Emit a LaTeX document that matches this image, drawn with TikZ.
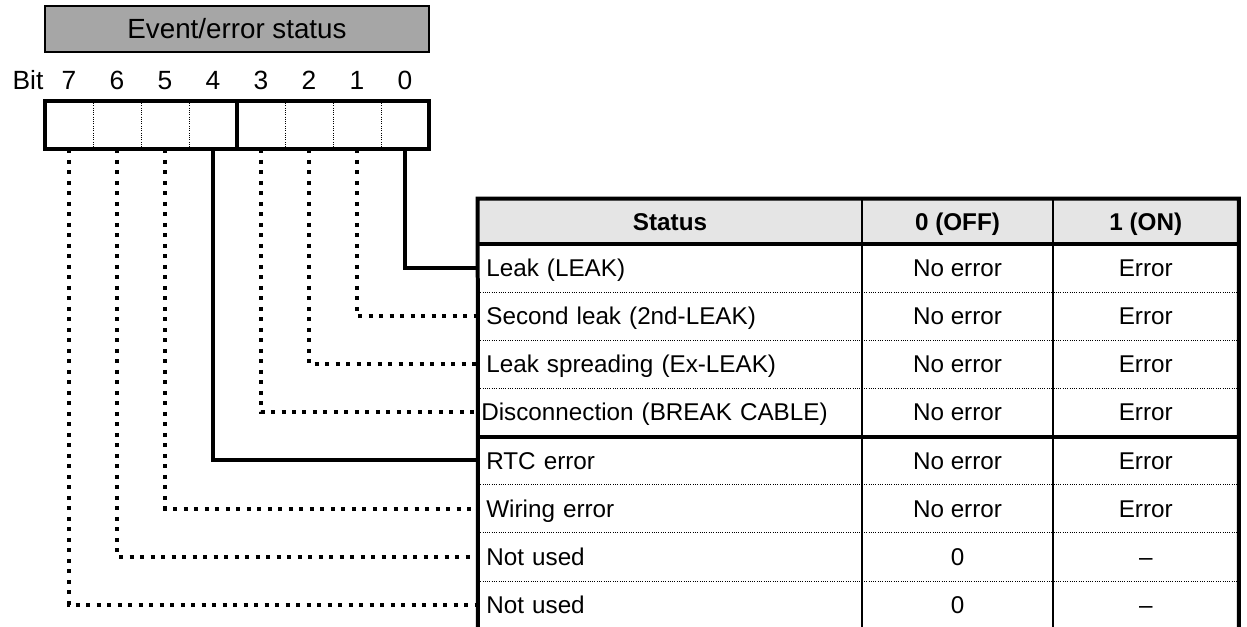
\documentclass[tikz,border=0pt]{standalone}
\usepackage{fontspec}
\setmainfont{Liberation Sans}
\usetikzlibrary{positioning}
\tikzset{
  titlebox/.style={draw, line width=0.04cm, fill=black!35, minimum width=7.68cm, minimum height=0.92cm, inner sep=0pt, font=\fontsize{15.8}{18}\selectfont},
  bitlbl/.style={inner sep=0pt, text height=10.7pt, text depth=0pt, font=\fontsize{15}{17}\selectfont},
  bitcell/.style={minimum width=0.96cm, minimum height=0.96cm, inner sep=0pt},
  headcell/.style={fill=black!10, minimum height=0.9cm, inner sep=0pt, text height=12.8pt, text depth=3pt, font=\fontsize{13.8}{16}\selectfont\bfseries},
  statcell/.style={anchor=west, minimum height=0.962cm, inner ysep=0pt, inner xsep=0.16cm, text width=7.36cm, align=left, text height=12.8pt, text depth=3pt, font=\fontsize{13.8}{16}\selectfont},
  valcell/.style={minimum height=0.962cm, inner sep=0pt, text height=12.8pt, text depth=3pt, font=\fontsize{13.8}{16}\selectfont},
  boxline/.style={line width=0.08cm},
  colline/.style={line width=0.04cm},
  finedot/.style={line width=0.5pt, dash pattern=on 0.5pt off 0.8pt},
  solidlink/.style={line width=0.08cm},
  dotlink/.style={line width=0.08cm, dash pattern=on 0.08cm off 0.13cm},
}

\begin{document}
\begin{tikzpicture}[x=0.02cm, y=-0.02cm]
  \useasboundingbox (0,0) rectangle (1247,626);
  \clip (0,0) rectangle (1247,626);

  % register title and bit numbers
  \node[titlebox] (title) at (237,29) {Event/error status};
  \node[bitlbl] (bitword) at (28,80.5) {Bit};
  \foreach \b in {0,...,7} {
    \node[bitcell] (b\b) at ({405-48*\b},125) {};
    \node[bitlbl] (n\b) at ({405-48*\b},80.5) {\b};
  }
  \foreach \b in {7,6,5,3,2,1}
    \draw[finedot] (b\b.north east) -- (b\b.south east);
  \draw[boxline] (b7.north west) rectangle (b4.south east);
  \draw[boxline] (b3.north west) rectangle (b0.south east);

  % status table
  \node[headcell, minimum width=7.68cm] (hs) at (670,221.5) {Status};
  \node[headcell, minimum width=3.82cm] (h0) at (957.5,221.5) {0 (OFF)};
  \node[headcell, minimum width=3.71cm] (h1) at (1145.75,221.5) {1 (ON)};
  \coordinate (tbot) at (478,640);

  \foreach \i/\txt/\off/\on in {0/Leak (LEAK)/No error/Error,
      1/Second leak (2nd-LEAK)/No error/Error,
      2/Leak spreading (Ex-LEAK)/No error/Error,
      3/\hspace*{-0.1cm}Disconnection (BREAK CABLE)/No error/Error,
      4/RTC error/No error/Error,
      5/Wiring error/No error/Error,
      6/Not used/0/--,
      7/Not used/0/--} {
    \node[statcell] (r\i) at (478,{268+48.1*\i}) {\txt};
    \node[valcell] (v\i) at (957.5,{268+48.1*\i}) {\off};
    \node[valcell] (w\i) at (1145.75,{268+48.1*\i}) {\on};
  }
  \foreach \i in {0,1,2,4,5,6}
    \draw[finedot] (r\i.south west) -- (r\i.south west -| h1.east);
  \draw[boxline] (r3.south west) -- (r3.south west -| h1.east);

  \draw[colline] (h0.north west) -- (h0.north west |- tbot);
  \draw[colline] (h1.north west) -- (h1.north west |- tbot);
  \draw[boxline] (hs.south west) -- (h1.south east);
  \draw[boxline] (tbot) -- (hs.north west) -- (h1.north east) -- (h1.east |- tbot);

  % bit to row connectors
  \draw[solidlink] (b0.south) |- (r0.west);
  \draw[dotlink] (b1.south) |- (r1.west);
  \draw[dotlink] (b2.south) |- (r2.west);
  \draw[dotlink] (b3.south) |- (r3.west);
  \draw[solidlink] (b4.south) |- (r4.west);
  \draw[dotlink] (b5.south) |- (r5.west);
  \draw[dotlink] (b6.south) |- (r6.west);
  \draw[dotlink] (b7.south) |- (r7.west);
\end{tikzpicture}
\end{document}
